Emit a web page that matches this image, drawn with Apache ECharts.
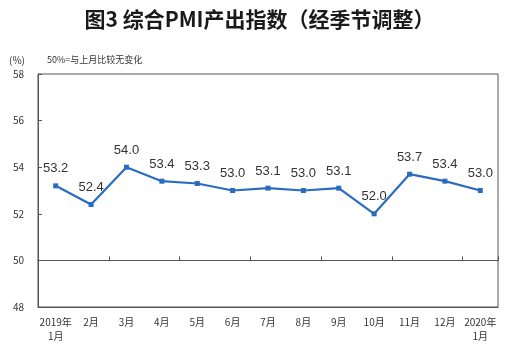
<!DOCTYPE html>
<html>
<head>
<meta charset="utf-8">
<script src="https://cdn.jsdelivr.net/npm/echarts@6/dist/echarts.min.js"></script>
<style>
  html, body { margin: 0; padding: 0; background: #fff; }
  #main { width: 519px; height: 354px; }
</style>
</head>
<body>
<div id="main"></div>
<script>
var months = ['2019年\n1月', '2月', '3月', '4月', '5月', '6月', '7月', '8月', '9月', '10月', '11月', '12月', '2020年\n1月'];
var pmiOutput = [53.2, 52.4, 54.0, 53.4, 53.3, 53.0, 53.1, 53.0, 53.1, 52.0, 53.7, 53.4, 53.0];
var yTicks = [48, 50, 52, 54, 56, 58];

var chartDom = document.getElementById('main');
var myChart = echarts.init(chartDom);
var font = '"Noto Sans CJK SC", sans-serif';

var option = {
    backgroundColor: '#fff',
    animation: false,
    title: [
        {
            text: '图3 综合PMI产出指数（经季节调整）',
            left: 'center',
            top: 4,
            textStyle: { fontFamily: font, fontSize: 21, fontWeight: 'bold', color: '#1a1a1a' }
        },
        {
            text: '(%)',
            left: 4,
            top: 50,
            textStyle: { fontFamily: font, fontSize: 10, fontWeight: 'normal', color: '#333' }
        },
        {
            text: '50%=与上月比较无变化',
            left: 42,
            top: 50,
            textStyle: { fontFamily: font, fontSize: 9, fontWeight: 'normal', color: '#333' }
        }
    ],
    grid: {
        left: 38,
        right: 21,
        top: 74,
        bottom: 47,
        show: true,
        borderColor: '#555',
        borderWidth: 1
    },
    xAxis: [
        {
            type: 'category',
            data: months,
            boundaryGap: true,
            axisLine: { show: true, lineStyle: { color: '#555' } },
            axisTick: { show: false },
            axisLabel: { fontFamily: font, fontSize: 10, color: '#333', interval: 0, lineHeight: 14, margin: 8 }
        },
        {
            type: 'category',
            data: months,
            position: 'bottom',
            offset: -46.6,
            boundaryGap: true,
            axisLine: { show: true, lineStyle: { color: '#555' } },
            axisTick: { show: true, inside: true, length: 4, lineStyle: { color: '#555' } },
            axisLabel: { show: false }
        }
    ],
    yAxis: {
        type: 'value',
        min: 48,
        max: 58,
        interval: 2,
        axisLine: { show: true, lineStyle: { color: '#555' } },
        axisTick: { show: true, inside: true, length: 4, lineStyle: { color: '#555' } },
        splitLine: { show: false },
        axisLabel: {
            fontFamily: font, fontSize: 10, color: '#333', margin: 14,
            formatter: function (v) { return yTicks.indexOf(v) >= 0 ? String(v) : ''; }
        }
    },
    series: [
        {
            type: 'line',
            data: pmiOutput,
            symbol: 'rect',
            symbolSize: 5,
            lineStyle: { color: '#2a6cc0', width: 2.2 },
            itemStyle: { color: '#2a6cc0' },
            label: {
                show: true,
                position: 'top',
                distance: 8,
                fontFamily: 'Arial, "Liberation Sans", sans-serif',
                fontSize: 13,
                color: '#333',
                formatter: function (p) { return p.value.toFixed(1); }
            }
        }
    ]
};

option && myChart.setOption(option);
</script>
</body>
</html>
